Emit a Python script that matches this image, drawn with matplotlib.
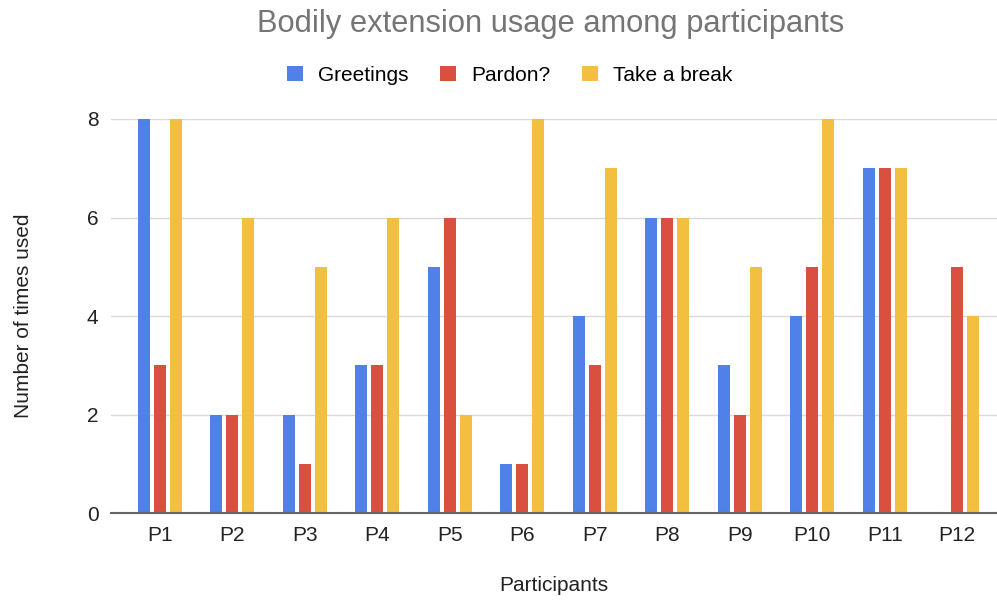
import matplotlib

matplotlib.use("Agg")
import matplotlib.pyplot as plt
import numpy as np

participants = ["P1", "P2", "P3", "P4", "P5", "P6", "P7", "P8", "P9", "P10", "P11", "P12"]
greetings = [8, 2, 2, 3, 5, 1, 4, 6, 3, 4, 7, 0]
pardon = [3, 2, 1, 3, 6, 1, 3, 6, 2, 5, 7, 5]
take_break = [8, 6, 5, 6, 2, 8, 7, 6, 5, 8, 7, 4]
series_names = ["Greetings", "Pardon?", "Take a break"]
yticks = [0, 2, 4, 6, 8]

colors = ["#4f81e8", "#d9503f", "#f2bf40"]

plt.rcParams["font.family"] = ["Liberation Sans", "DejaVu Sans"]

fig = plt.figure(figsize=(9.97, 6.01), dpi=100)
ax = fig.add_axes([0.1113, 0.1464, 0.8887, 0.6556])

x = np.arange(len(participants))
width = 0.165
step = 0.22
for i, (vals, name) in enumerate(zip([greetings, pardon, take_break], series_names)):
    ax.bar(x + (i - 1) * step, vals, width=width, color=colors[i], label=name,
           zorder=3, clip_on=False)

ax.set_xlim(-0.675, 11.55)
ax.set_ylim(0, 8)
ax.set_yticks(yticks)
ax.set_xticks(x)
ax.set_xticklabels(participants)
ax.grid(axis="y", color="#d9d9d9", linewidth=1, zorder=0)
for side in ["top", "right", "left"]:
    ax.spines[side].set_visible(False)
ax.spines["bottom"].set_color("#666666")
ax.spines["bottom"].set_linewidth(1.5)
ax.spines["bottom"].set_zorder(4)
ax.tick_params(axis="both", length=0, labelsize=15, colors="#222222")
ax.tick_params(axis="x", pad=9)
ax.tick_params(axis="y", pad=9)

ax.set_xlabel("Participants", fontsize=15, color="#222222", labelpad=23)
ax.set_ylabel("Number of times used", fontsize=15, color="#222222", labelpad=39)

fig.text(0.552, 0.96, "Bodily extension usage among participants", ha="center",
         va="center", fontsize=22.2, color="#757575")
fig.legend(loc="center", bbox_to_anchor=(0.511, 0.875), ncol=3, frameon=False,
           fontsize=15, handlelength=0.8, handleheight=0.8, columnspacing=1.5,
           handletextpad=0.7)

fig.savefig("out.png", dpi=100)
